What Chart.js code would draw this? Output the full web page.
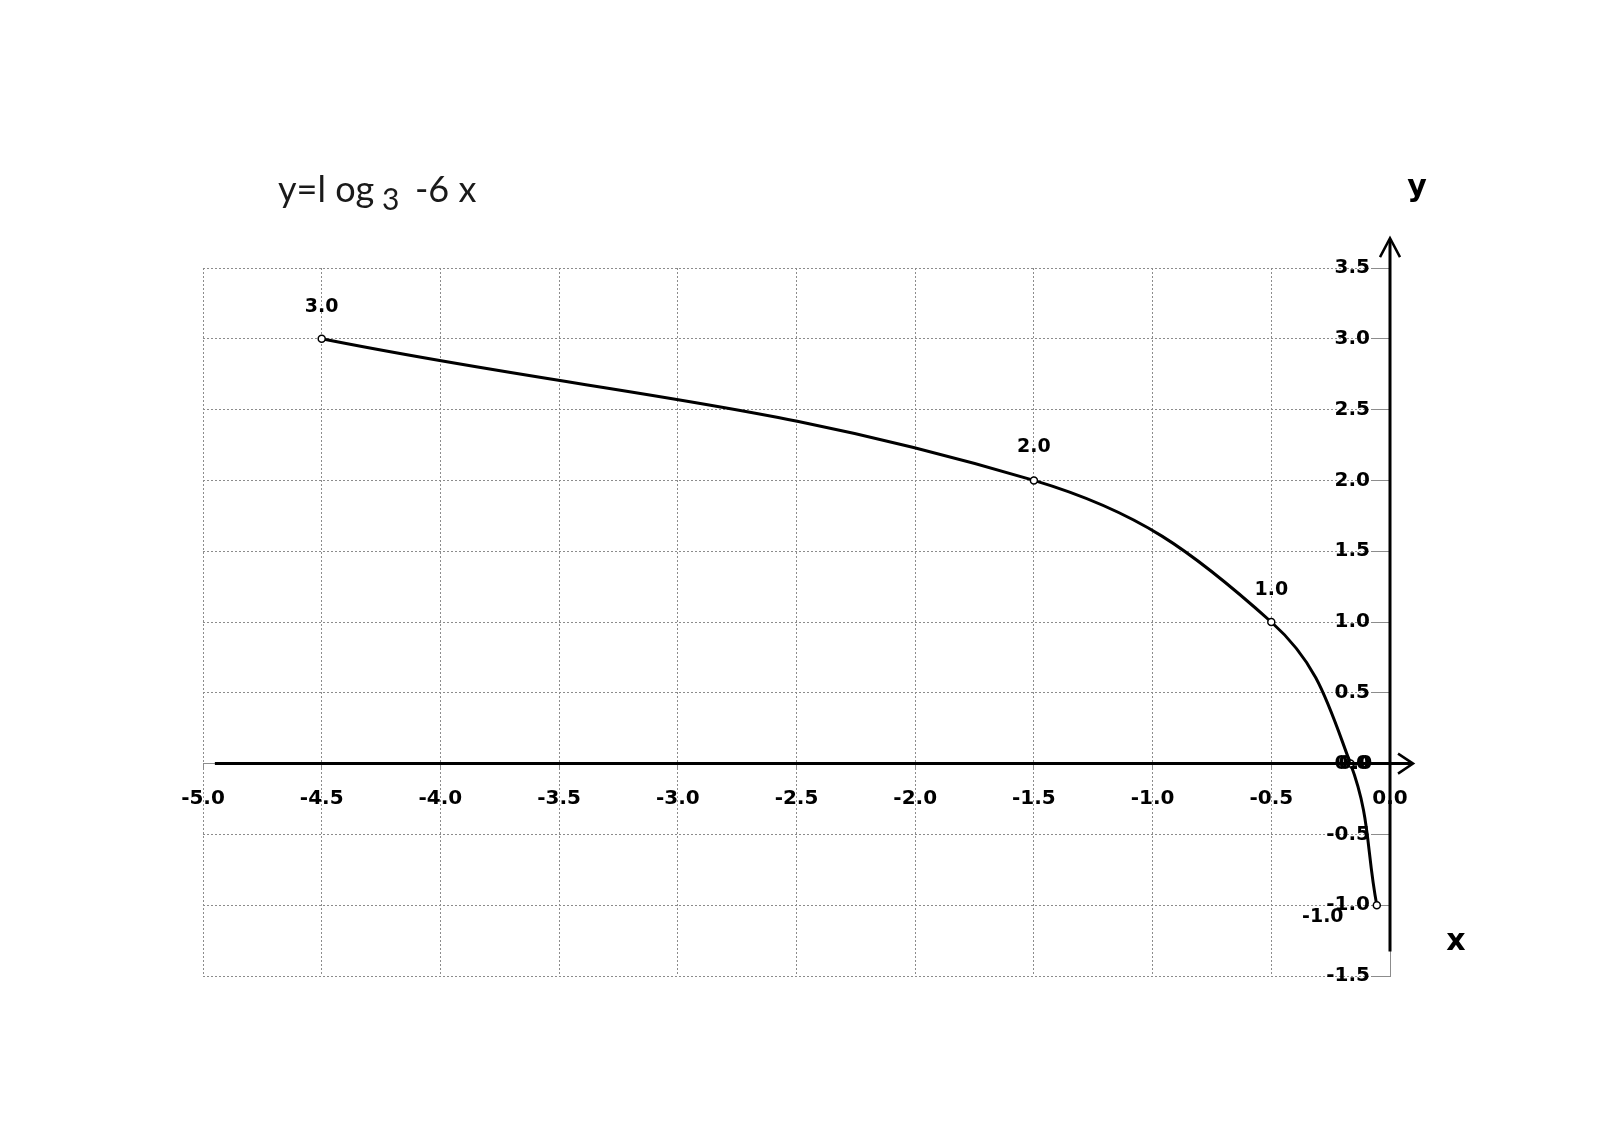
<!DOCTYPE html>
<html>
<head>
<meta charset="utf-8">
<script src="https://cdn.jsdelivr.net/npm/chart.js@4.4.0/dist/chart.umd.min.js"></script>
<style>
  html, body { margin: 0; padding: 0; background: #ffffff; }
  #wrap { position: relative; width: 1600px; height: 1127px; }
  canvas { display: block; }
</style>
</head>
<body>
<div id="wrap"><canvas id="c" width="1600" height="1127"></canvas></div>
<script>
// ---- data ----
const xValues = [-4.5, -1.5, -0.5, -0.1667, -0.0556];
const yValues = [3.0, 2.0, 1.0, 0.0, -1.0];
const pointLabels = ['3.0', '2.0', '1.0', '0.0', '-1.0'];
const xAxisRange = [-5.0, 0.0];
const yAxisRange = [-1.5, 3.5];
const tickStep = [0.5];
const titleParts = ['y=l og', '3', '-6 x'];
const axisNames = ['x', 'y'];

// ---- styles (not data) ----
const labelOffsets = [[0, -32], [0, -33], [0, -32], [5, 0], [-54, 12]];
const tickFont = { family: 'DejaVu Sans', size: 20, weight: 'bold' };

const points = xValues.map((x, i) => ({ x: x, y: yValues[i] }));

const decorPlugin = {
  id: 'decor',
  afterDatasetsDraw(chart) {
    const ctx = chart.ctx;
    const meta = chart.getDatasetMeta(0);
    ctx.save();
    ctx.fillStyle = '#000';
    ctx.font = 'bold 19px "DejaVu Sans"';
    ctx.textAlign = 'center';
    ctx.textBaseline = 'middle';
    meta.data.forEach((el, i) => {
      const off = labelOffsets[i];
      ctx.fillText(pointLabels[i], el.x + off[0], el.y + off[1]);
    });
    ctx.restore();
  },
  afterDraw(chart) {
    const ctx = chart.ctx;
    const xs = chart.scales.x, ys = chart.scales.y;
    const y0 = ys.getPixelForValue(0);
    const x0 = xs.getPixelForValue(0);
    ctx.save();
    ctx.strokeStyle = '#000';
    ctx.lineCap = 'butt';
    // x axis arrow
    const xStart = xs.getPixelForValue(-4.95);
    const xTip = xs.getPixelForValue(0.097);
    ctx.lineWidth = 3;
    ctx.beginPath();
    ctx.moveTo(xStart, y0);
    ctx.lineTo(xTip - 1, y0);
    ctx.stroke();
    ctx.lineWidth = 2.5;
    ctx.beginPath();
    ctx.moveTo(xTip - 15, y0 - 10);
    ctx.lineTo(xTip, y0);
    ctx.lineTo(xTip - 15, y0 + 10);
    ctx.stroke();
    // y axis arrow
    const yStart = ys.getPixelForValue(-1.327);
    const yTip = ys.getPixelForValue(3.711);
    ctx.lineWidth = 3;
    ctx.beginPath();
    ctx.moveTo(x0, yStart);
    ctx.lineTo(x0, yTip + 1);
    ctx.stroke();
    ctx.lineWidth = 2.5;
    ctx.beginPath();
    ctx.moveTo(x0 - 10, yTip + 19);
    ctx.lineTo(x0, yTip);
    ctx.lineTo(x0 + 10, yTip + 19);
    ctx.stroke();
    // axis names
    ctx.fillStyle = '#000';
    ctx.font = 'bold 30px "DejaVu Sans"';
    ctx.textAlign = 'center';
    ctx.textBaseline = 'alphabetic';
    ctx.fillText(axisNames[0], 1456, 950);
    ctx.fillText(axisNames[1], 1417, 196);
    // title
    ctx.fillStyle = '#1a1a1a';
    ctx.textAlign = 'left';
    ctx.font = '36px Lato';
    ctx.fillText(titleParts[0], 278, 202);
    ctx.font = '30px Lato';
    ctx.fillText(titleParts[1], 382, 210);
    ctx.font = '36px Lato';
    ctx.fillText(titleParts[2], 415, 202);
    ctx.restore();
  }
};

new Chart(document.getElementById('c'), {
  type: 'scatter',
  data: {
    datasets: [{
      data: points,
      showLine: true,
      borderColor: '#000',
      borderWidth: 3,
      tension: 0.4,
      pointRadius: 3.5,
      pointBorderWidth: 1.5,
      pointBackgroundColor: '#fff',
      pointBorderColor: '#000',
      clip: false
    }]
  },
  options: {
    responsive: false,
    animation: false,
    events: [],
    layout: { padding: { left: 203, right: 210, top: 268, bottom: 151 } },
    plugins: { legend: { display: false }, tooltip: { enabled: false }, title: { display: false } },
    scales: {
      x: {
        type: 'linear',
        position: { y: 0 },
        min: xAxisRange[0], max: xAxisRange[1],
        afterFit: (s) => { s.height = 0; },
        ticks: {
          stepSize: tickStep[0],
          autoSkip: false, maxRotation: 0, minRotation: 0,
          padding: 17,
          color: '#000',
          font: tickFont,
          callback: (v) => Number(v).toFixed(1)
        },
        grid: {
          color: '#8c8c8c', lineWidth: 1,
          tickLength: 6, tickColor: '#8c8c8c', tickBorderDash: []
        },
        border: { display: true, color: '#8c8c8c', width: 1, dash: [2, 2] }
      },
      y: {
        type: 'linear',
        position: 'right',
        min: yAxisRange[0], max: yAxisRange[1],
        afterFit: (s) => { s.width = 0; },
        ticks: {
          stepSize: tickStep[0],
          autoSkip: false,
          mirror: true,
          padding: -20,
          color: '#000',
          font: tickFont,
          callback: (v) => Number(v).toFixed(1)
        },
        grid: {
          color: '#8c8c8c', lineWidth: 1,
          tickLength: -18, tickColor: '#8c8c8c', tickBorderDash: []
        },
        border: { display: true, color: '#8c8c8c', width: 1, dash: [2, 2] }
      }
    }
  },
  plugins: [decorPlugin]
});
</script>
</body>
</html>
